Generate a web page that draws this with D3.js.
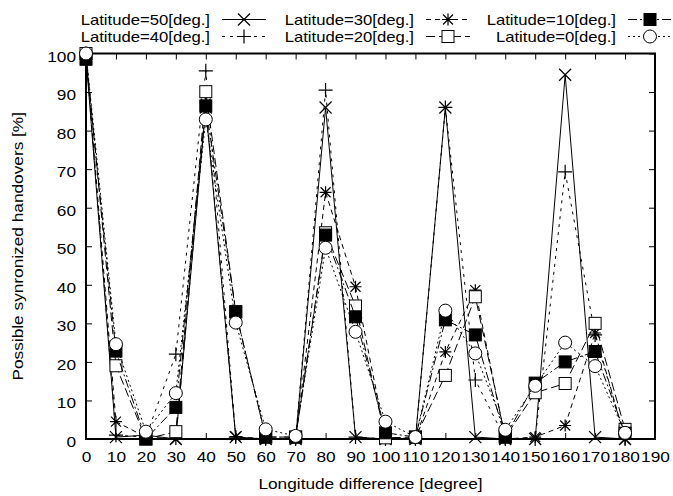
<!DOCTYPE html>
<html>
<head>
<meta charset="utf-8">
<script src="https://cdn.jsdelivr.net/npm/d3@7/dist/d3.min.js"></script>
<style>
    body { margin: 0; background: #fff; }
    svg text { font-family: "Liberation Sans", Arial, sans-serif; fill: #000; }
</style>
</head>
<body>
<div id="visualization"></div>
<script>
// longitude difference [degree]
const longitudes = [0, 10, 20, 30, 40, 50, 60, 70, 80, 90, 100, 110, 120, 130, 140, 150, 160, 170, 180];
const xTicks = [0, 10, 20, 30, 40, 50, 60, 70, 80, 90, 100, 110, 120, 130, 140, 150, 160, 170, 180, 190];
const yTicks = [0, 10, 20, 30, 40, 50, 60, 70, 80, 90, 100];

// possible synchronized handovers [%], one list per latitude
const lat50 = [99, 0.5, 1, 0, 86, 0.5, 0, 0, 86, 0.5, 0, 0, 86, 0.5, 0, 0, 94.5, 0.5, 0];
const lat40 = [100, 1, 0.5, 22, 95.5, 0.5, 0, 0, 90.5, 0.5, 0, 0, 86, 15.3, 0, 0, 69.3, 27, 0];
const lat30 = [100, 4.5, 0.5, 0, 87, 0.6, 0, 0, 64, 39.5, 0.5, 0, 22.6, 38.6, 0, 0.5, 3.5, 27.5, 0];
const lat20 = [100, 19, 0, 1.9, 90.1, 33, 0.5, 0.5, 53.5, 34.5, 0.3, 0.5, 16.5, 36.9, 0.5, 12, 14.4, 30, 2.5];
const lat10 = [98.5, 22.8, 0, 8.2, 86.4, 33, 0.5, 0.5, 52.9, 31.7, 1.6, 0.5, 30.9, 27, 0.5, 14.5, 20, 22.7, 1.5];
const lat0 = [100, 24.6, 1.9, 11.9, 82.9, 30.2, 2.5, 0.8, 49.6, 27.8, 4.5, 0.5, 33.3, 22.2, 2.4, 13.8, 25, 18.9, 1.6];

const seriesNames = ['Latitude=50[deg.]', 'Latitude=40[deg.]', 'Latitude=30[deg.]',
    'Latitude=20[deg.]', 'Latitude=10[deg.]', 'Latitude=0[deg.]'];
const seriesValues = [lat50, lat40, lat30, lat20, lat10, lat0];

const styles = [
    { marker: 'cross', dash: null },
    { marker: 'plus', dash: '3,5' },
    { marker: 'star', dash: '5,4' },
    { marker: 'square', dash: '9,4' },
    { marker: 'filled', dash: '9,3,2,3' },
    { marker: 'circle', dash: '2,3' }
];

const config = {
    width: 673,
    height: 496,
    plot: { left: 86, right: 655, top: 53.5, bottom: 439 },
    fontSize: 15,
    keyFontSize: 14.5,
    stretch: 1.15,
    tick: 6
};

const drawMarker = (g, kind, cx, cy) => {
    const s = 6;
    if (kind === 'cross') {
        g.append('path').attr('d', `M${cx - s},${cy - s}L${cx + s},${cy + s}M${cx - s},${cy + s}L${cx + s},${cy - s}`)
            .attr('stroke', '#000').attr('stroke-width', 1.2);
    } else if (kind === 'plus') {
        g.append('path').attr('d', `M${cx - s - 1},${cy}L${cx + s + 1},${cy}M${cx},${cy - s - 1}L${cx},${cy + s + 1}`)
            .attr('stroke', '#000').attr('stroke-width', 1.2);
    } else if (kind === 'star') {
        const d = s - 1;
        g.append('path').attr('d', `M${cx - d},${cy - d}L${cx + d},${cy + d}M${cx - d},${cy + d}L${cx + d},${cy - d}` +
            `M${cx - s},${cy}L${cx + s},${cy}M${cx},${cy - s}L${cx},${cy + s}`)
            .attr('stroke', '#000').attr('stroke-width', 1.2);
    } else if (kind === 'square' || kind === 'filled') {
        g.append('rect').attr('x', cx - s).attr('y', cy - s).attr('width', 2 * s).attr('height', 2 * s)
            .attr('fill', kind === 'filled' ? '#000' : '#fff').attr('stroke', '#000').attr('stroke-width', 1);
    } else if (kind === 'circle') {
        g.append('circle').attr('cx', cx).attr('cy', cy).attr('r', s + 0.5)
            .attr('fill', '#fff').attr('stroke', '#000').attr('stroke-width', 1);
    }
};

// the original font is wider than Liberation Sans at the same height
const stretchTexts = svg => {
    svg.selectAll('text').each(function () {
        const len = this.getComputedTextLength();
        if (len > 0) {
            this.setAttribute('textLength', len * config.stretch);
            this.setAttribute('lengthAdjust', 'spacingAndGlyphs');
        }
    });
};

const makeChart = () => {
    const p = config.plot;
    const svg = d3.select('#visualization').append('svg')
        .attr('width', config.width)
        .attr('height', config.height);

    const x = d3.scaleLinear().domain([0, 190]).range([p.left, p.right]);
    const y = d3.scaleLinear().domain([0, 100]).range([p.bottom, p.top]);

    // x axis (ticks inward) and mirrored ticks on top
    svg.append('g')
        .attr('transform', `translate(0,${p.bottom})`)
        .call(d3.axisBottom(x).tickValues(xTicks).tickSize(-config.tick).tickSizeOuter(0).tickPadding(12));
    svg.append('g')
        .attr('transform', `translate(0,${p.top})`)
        .call(d3.axisTop(x).tickValues(xTicks).tickSize(-config.tick).tickSizeOuter(0).tickFormat(''));

    // y axis and mirrored ticks on the right
    const yAxis = svg.append('g')
        .attr('transform', `translate(${p.left},0)`)
        .call(d3.axisLeft(y).tickValues(yTicks).tickSize(-config.tick).tickSizeOuter(0).tickPadding(10));
    yAxis.selectAll('.tick text').attr('dy', '0.5em');
    svg.append('g')
        .attr('transform', `translate(${p.right},0)`)
        .call(d3.axisRight(y).tickValues(yTicks).tickSize(-config.tick).tickSizeOuter(0).tickFormat(''));

    svg.selectAll('.domain').remove();
    svg.selectAll('.tick line').attr('stroke', '#000').attr('stroke-width', 1);
    svg.selectAll('.tick text').attr('font-size', config.fontSize).attr('font-family', '"Liberation Sans", Arial, sans-serif');

    svg.append('rect')
        .attr('x', p.left).attr('y', p.top)
        .attr('width', p.right - p.left).attr('height', p.bottom - p.top)
        .attr('fill', 'none').attr('stroke', '#000').attr('stroke-width', 2);

    // series lines, then markers
    const line = d3.line().x((d, i) => x(longitudes[i])).y(d => y(d));
    seriesValues.forEach((values, k) => {
        const g = svg.append('g');
        g.append('path')
            .attr('d', line(values))
            .attr('fill', 'none')
            .attr('stroke', '#000')
            .attr('stroke-width', 1)
            .attr('stroke-dasharray', styles[k].dash);
        values.forEach((v, i) => drawMarker(g, styles[k].marker, x(longitudes[i]), y(v)));
    });

    // key: two rows, three columns, text right-justified before the sample
    const keyCols = [210, 414, 616];
    const keyRows = [24.5, 41.5];
    seriesNames.forEach((name, k) => {
        const col = Math.floor(k / 2);
        const row = k % 2;
        const tx = keyCols[col];
        const ty = keyRows[row];
        const g = svg.append('g');
        g.append('text')
            .attr('x', tx).attr('y', ty)
            .attr('text-anchor', 'end')
            .attr('font-size', config.keyFontSize)
            .text(name);
        const lx0 = tx + 12, lx1 = tx + 56, ly = ty - 5;
        g.append('line')
            .attr('x1', lx0).attr('x2', lx1).attr('y1', ly).attr('y2', ly)
            .attr('stroke', '#000').attr('stroke-width', 1)
            .attr('stroke-dasharray', styles[k].dash);
        drawMarker(g, styles[k].marker, (lx0 + lx1) / 2, ly);
    });

    // axis titles
    svg.append('text')
        .attr('x', (p.left + p.right) / 2).attr('y', 489)
        .attr('text-anchor', 'middle')
        .attr('font-size', config.fontSize)
        .text('Longitude difference [degree]');
    svg.append('text')
        .attr('transform', `translate(23,${(p.top + p.bottom) / 2}) rotate(-90)`)
        .attr('text-anchor', 'middle')
        .attr('font-size', config.fontSize)
        .text('Possible synronized handovers [%]');

    stretchTexts(svg);
    return svg;
};

makeChart();
</script>
</body>
</html>
